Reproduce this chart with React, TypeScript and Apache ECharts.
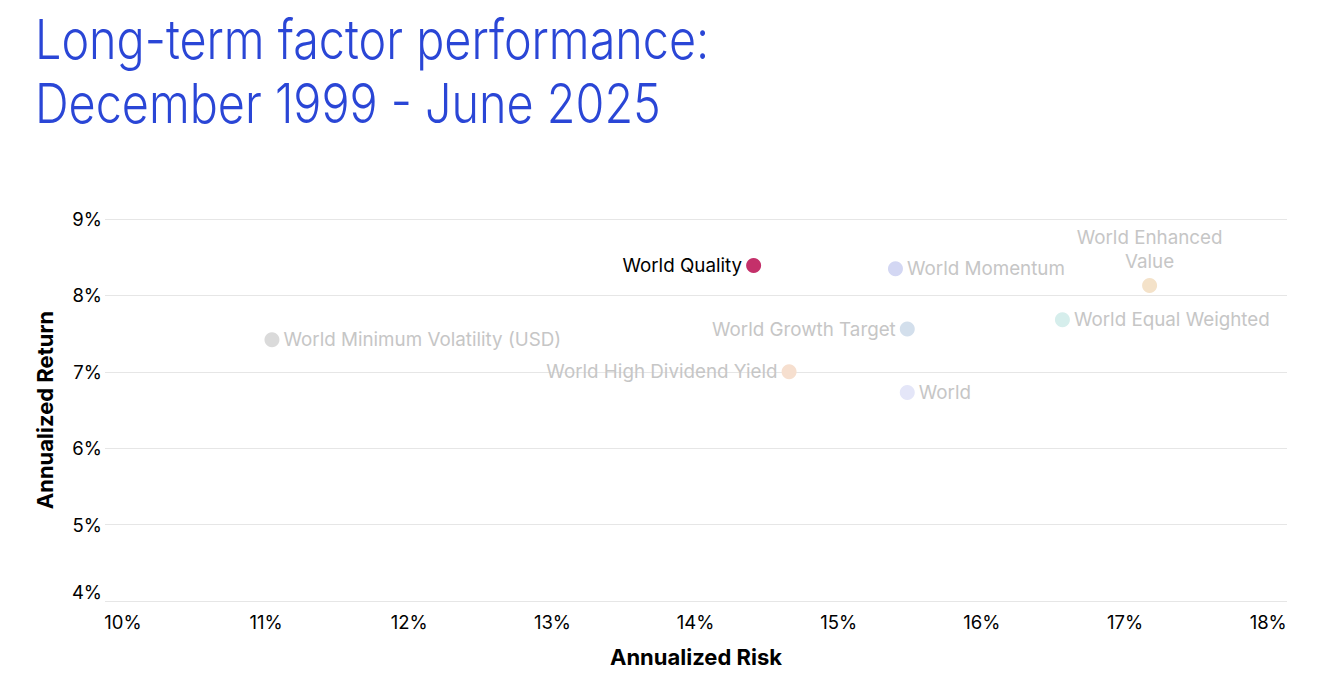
import React, { useEffect, useRef } from "react";
import * as echarts from "echarts";

const titleLines = ["Long-term factor performance:", "December 1999 - June 2025"];
const xAxisName = "Annualized Risk";
const yAxisName = "Annualized Return";

const indexNames = [
  "World Quality",
  "World Momentum",
  "World Enhanced\nValue",
  "World Equal Weighted",
  "World Growth Target",
  "World Minimum Volatility (USD)",
  "World High Dividend Yield",
  "World",
];
const annualizedRisk = [14.39, 15.35, 17.07, 16.48, 15.43, 11.13, 14.63, 15.43];
const annualizedReturn = [8.39, 8.35, 8.13, 7.68, 7.56, 7.42, 7.0, 6.73];

const xTicks = [10, 11, 12, 13, 14, 15, 16, 17, 18];
const yTicks = [4, 5, 6, 7, 8, 9];

// styling (not data)
const pointColors = ["#c4306a", "#d3d7f3", "#f4e2c9", "#d6eeec", "#d3dfec", "#dadada", "#f6dfcf", "#e4e6f8"];
const labelColors = ["#000000", "#c6c6c6", "#c6c6c6", "#c6c6c6", "#c6c6c6", "#c6c6c6", "#c6c6c6", "#c6c6c6"];
const labelSides = ["left", "right", "top", "right", "left", "right", "left", "right"];

const FONT = "Inter, 'Noto Sans', sans-serif";

export default function App() {
  const ref = useRef<HTMLDivElement>(null);
  useEffect(() => {
    if (!ref.current) return;
    const chart = echarts.init(ref.current, undefined, { renderer: "svg" });

    const rich: Record<string, any> = {};
    xTicks.forEach((_, k) => {
      const d = 18 - 4.6 * k;
      const pl = d > 0 ? 2 * d : 0;
      const pr = d < 0 ? -2 * d : 0;
      rich["t" + k] = {
        fontSize: 18.5,
        fontFamily: FONT,
        color: "#000",
        padding: [0, pr, 0, pl],
        align: "center",
      };
    });

    const data = indexNames.map((name, i) => ({
      name,
      value: [annualizedRisk[i], annualizedReturn[i]],
      itemStyle: { color: pointColors[i], opacity: 1 },
      label: {
        show: true,
        position: labelSides[i],
        distance: 4,
        formatter: name,
        color: labelColors[i],
        fontSize: 18.8,
        fontFamily: FONT,
        lineHeight: 24,
        align: labelSides[i] === "top" ? "center" : undefined,
      },
    }));

    const titleStyle = {
      fontFamily: FONT,
      fontWeight: 300,
      fontSize: 55,
      fill: "#2a46d6",
      verticalAlign: "middle",
      align: "left",
    };

    chart.setOption({
      animation: false,
      graphic: [
        {
          type: "text",
          x: 35,
          y: 39,
          scaleX: 0.85,
          style: { ...titleStyle, text: titleLines[0] },
        },
        {
          type: "text",
          x: 35,
          y: 103,
          scaleX: 0.85,
          style: { ...titleStyle, text: titleLines[1] },
        },
      ],
      grid: { left: 105, right: 43, top: 219, bottom: 89, containLabel: false },
      xAxis: {
        type: "value",
        min: 10,
        max: 18,
        interval: 1,
        name: xAxisName,
        nameLocation: "middle",
        nameGap: 45,
        nameTextStyle: { fontFamily: FONT, fontSize: 22, fontWeight: 700, color: "#000" },
        axisLine: { show: false },
        axisTick: { show: false },
        splitLine: { show: false },
        axisLabel: {
          margin: 11,
          formatter: (v: number) => {
            const k = xTicks.indexOf(Math.round(v));
            return `{t${k}|${Math.round(v)}%}`;
          },
          rich,
        },
      },
      yAxis: {
        type: "value",
        min: yTicks[0],
        max: yTicks[yTicks.length - 1],
        interval: 1,
        name: yAxisName,
        nameLocation: "middle",
        nameGap: 49,
        nameTextStyle: { fontFamily: FONT, fontSize: 22, fontWeight: 700, color: "#000" },
        axisLine: { show: false },
        axisTick: { show: false },
        splitLine: { show: true, lineStyle: { color: "#e6e6e6", width: 1 } },
        axisLabel: {
          margin: 3,
          fontSize: 18.5,
          fontFamily: FONT,
          color: "#000",
          formatter: (v: number) => `${Math.round(v)}%`,
          verticalAlignMinLabel: "bottom",
        },
      },
      series: [
        {
          type: "scatter",
          symbol: "circle",
          symbolSize: 15,
          data,
          z: 3,
        },
      ],
    });
    return () => chart.dispose();
  }, []);

  return (
    <div
      ref={ref}
      style={{ position: "fixed", left: 0, top: 0, width: 1330, height: 690, background: "#fff" }}
    />
  );
}
